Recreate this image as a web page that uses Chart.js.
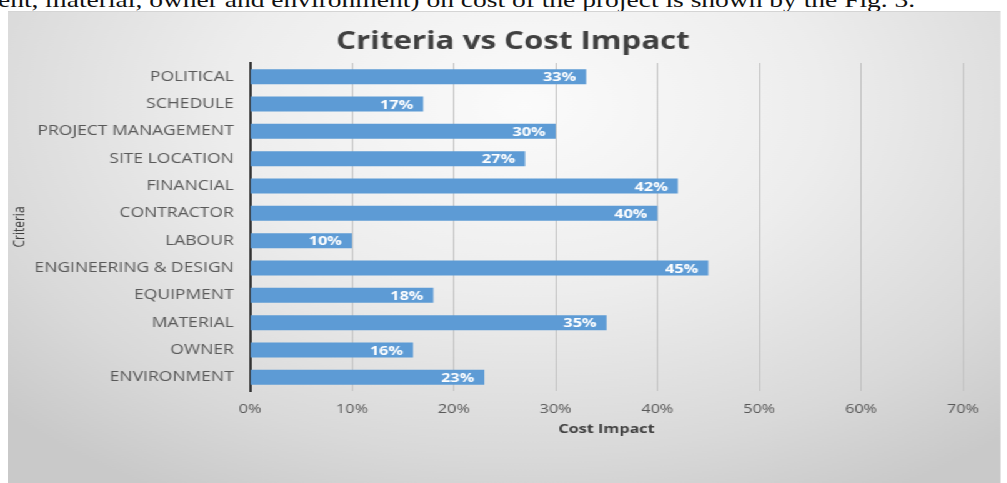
<!DOCTYPE html>
<html lang="en">
<head>
    <meta charset="UTF-8">
    <title>Criteria vs Cost Impact</title>
    <script src="https://cdn.jsdelivr.net/npm/chart.js@4.4.1/dist/chart.umd.min.js"></script>
    <style>
        html, body { margin: 0; padding: 0; width: 1007px; height: 483px; overflow: hidden; background: #fff; }
        /* el grafico original viene estirado en horizontal */
        #caption {
            position: absolute; left: -2px; top: -13px; white-space: nowrap;
            font-family: "Liberation Serif", serif; font-size: 22px; color: #111;
            transform: scaleX(1.25); transform-origin: 0 0;
        }
        #box {
            position: absolute; left: 8px; top: 11px; width: 794px; height: 472px;
            border-top: 1px solid #d4d4d4;
            background: radial-gradient(ellipse 72% 95% at 52% 20%, #fbfbfb 0%, #ededed 42%, #d9d9d9 78%, #c9c9c9 100%);
            transform: scaleX(1.25); transform-origin: 0 0;
        }
    </style>
</head>
<body>
    <div id="caption">ent, material, owner and environment) on cost of the project is shown by the Fig. 3.</div>
    <div id="box"><canvas id="myCanvas" width="794" height="472"></canvas></div>

    <script>
    var criterios = ['POLITICAL', 'SCHEDULE', 'PROJECT MANAGEMENT', 'SITE LOCATION', 'FINANCIAL',
        'CONTRACTOR', 'LABOUR', 'ENGINEERING & DESIGN', 'EQUIPMENT', 'MATERIAL', 'OWNER', 'ENVIRONMENT'];
    var impacto = [33, 17, 30, 27, 42, 40, 10, 45, 18, 35, 16, 23];
    var ticksX = [0, 10, 20, 30, 40, 50, 60, 70];
    var titulo = 'Criteria vs Cost Impact';

    // titulo dibujado a mano para poder centrarlo donde va
    var tituloPlugin = {
        id: 'tituloPlugin',
        afterDraw: function(chart) {
            var ctx = chart.ctx;
            ctx.save();
            ctx.fillStyle = '#404040';
            ctx.font = 'bold 25px "Open Sans"';
            ctx.textAlign = 'center';
            ctx.textBaseline = 'middle';
            ctx.fillText(titulo, 404, 30);
            ctx.restore();
        }
    };

    // etiquetas blancas dentro del final de cada barra
    var etiquetas = {
        id: 'etiquetas',
        afterDatasetsDraw: function(chart) {
            var ctx = chart.ctx;
            var meta = chart.getDatasetMeta(0);
            ctx.save();
            ctx.fillStyle = '#ffffff';
            ctx.font = 'bold 13px "Open Sans"';
            ctx.textAlign = 'right';
            ctx.textBaseline = 'middle';
            meta.data.forEach(function(bar, i) {
                ctx.fillText(chart.data.datasets[0].data[i] + '%', bar.x - 8, bar.y + 1);
            });
            ctx.restore();
        }
    };

    var ctx = document.getElementById('myCanvas').getContext('2d');
    var myChart = new Chart(ctx, {
        type: 'bar',
        data: {
            labels: criterios,
            datasets: [{
                label: 'Cost Impact',
                data: impacto,
                backgroundColor: 'rgb(93, 155, 213)',
                categoryPercentage: 1,
                barPercentage: 0.55
            }]
        },
        options: {
            indexAxis: 'y',
            responsive: false,
            animation: false,
            layout: { padding: { left: 0, right: 30, top: 51, bottom: 0 } },
            plugins: {
                legend: { display: false },
                tooltip: { enabled: false },
                title: { display: false }
            },
            scales: {
                x: {
                    min: 0,
                    max: 70,
                    afterBuildTicks: function(scale) {
                        scale.ticks = ticksX.map(function(v) { return { value: v }; });
                    },
                    afterFit: function(scale) { scale.height = 93; },
                    grid: { color: '#c2c2c2', lineWidth: 1, drawTicks: false },
                    border: { display: false },
                    ticks: {
                        padding: 10,
                        color: '#595959',
                        font: { family: 'Open Sans', size: 13 },
                        callback: function(v) { return v + '%'; }
                    },
                    title: {
                        display: true,
                        text: 'Cost Impact',
                        color: '#404040',
                        font: { family: 'Open Sans', size: 13, weight: 'bold' },
                        padding: { top: 0, bottom: 47 }
                    }
                },
                y: {
                    afterFit: function(scale) { scale.width = 193.6; },
                    grid: { display: false, drawTicks: false },
                    border: { display: true, color: '#333333', width: 2 },
                    ticks: {
                        padding: 13,
                        color: '#595959',
                        font: { family: 'Open Sans', size: 14 }
                    },
                    title: {
                        display: true,
                        text: 'Criteria',
                        color: '#404040',
                        font: { family: 'Open Sans', size: 12 },
                        padding: { top: 2, bottom: 0 }
                    }
                }
            }
        },
        plugins: [etiquetas, tituloPlugin]
    });
    </script>
</body>
</html>
